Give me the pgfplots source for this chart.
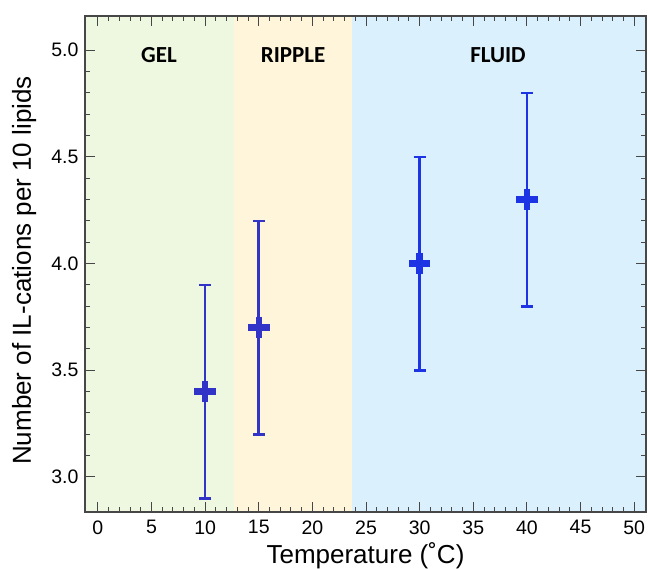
\documentclass[border=0pt]{standalone}
\usepackage{pgfplots}
\pgfplotsset{compat=1.18}
\usepackage{fontspec}
\setmainfont{Liberation Sans}
\newfontfamily\labelfont{Carlito}
\definecolor{gelbg}{HTML}{EEF8E1}
\definecolor{ripbg}{HTML}{FEF5DA}
\definecolor{fluidbg}{HTML}{DAF0FC}
\definecolor{ptA}{RGB}{50,52,200}
\definecolor{ptB}{RGB}{28,52,228}
\definecolor{axgray}{HTML}{474747}

\begin{document}
\begin{tikzpicture}
\begin{axis}[
    scale only axis, width=561pt, height=496pt,
    xmin=-1.2, xmax=51.1, ymin=2.836, ymax=5.16,
    xtick={0,5,...,50}, minor x tick num=4,
    ytick={3,3.5,...,5}, minor y tick num=4,
    tick align=inside, major tick length=10pt, minor tick length=5pt,
    every tick/.style={axgray, line width=1pt},
    axis line style={axgray, line width=1.4pt},
    yticklabel style={/pgf/number format/fixed, /pgf/number format/fixed zerofill,
        /pgf/number format/precision=1, xshift=-3pt},
    xticklabel style={yshift=-5pt},
    /pgf/number format/assume math mode=true,
    tick label style={font=\fontsize{19.5}{22}\selectfont},
    xlabel={Temperature (˚C)}, ylabel={Number of IL-cations per 10 lipids},
    label style={font=\fontsize{26}{30}\selectfont},
    xlabel style={at={(axis description cs:0.5,-0.1035)}, anchor=base},
    ylabel style={at={(axis description cs:-0.0963,0.487)}, anchor=base},
    axis on top,
]
\fill[gelbg] (axis cs:-1.2,2.836) rectangle (axis cs:12.7,5.16);
\fill[ripbg] (axis cs:12.7,2.836) rectangle (axis cs:23.7,5.16);
\fill[fluidbg] (axis cs:23.7,2.836) rectangle (axis cs:51.1,5.16);
\node[font=\labelfont\bfseries\fontsize{23}{26}\selectfont, anchor=base] at (axis cs:5.7,4.94) {GEL};
\node[font=\labelfont\bfseries\fontsize{23}{26}\selectfont, anchor=base] at (axis cs:18.2,4.94) {RIPPLE};
\node[font=\labelfont\bfseries\fontsize{23}{26}\selectfont, anchor=base] at (axis cs:37.3,4.94) {FLUID};
\addplot[ptA, only marks, mark=+, mark size=10.8pt, mark options={line width=6.5pt},
    error bars/.cd, y dir=both, y explicit,
    error bar style={line width=2.6pt},
    error mark options={rotate=90, mark size=6pt, line width=2.6pt}]
coordinates {
    (10,3.4) +- (0,0.5)
    (15,3.7) +- (0,0.5)
};
\addplot[ptB, only marks, mark=+, mark size=10.8pt, mark options={line width=6.5pt},
    error bars/.cd, y dir=both, y explicit,
    error bar style={line width=2.6pt},
    error mark options={rotate=90, mark size=6pt, line width=2.6pt}]
coordinates {
    (30,4.0) +- (0,0.5)
    (40,4.3) +- (0,0.5)
};
\end{axis}
\pgfresetboundingbox
\path ([shift={(-85pt,-57pt)}]current axis.south west) rectangle ([shift={(2pt,16pt)}]current axis.north east);
\end{tikzpicture}
\end{document}
